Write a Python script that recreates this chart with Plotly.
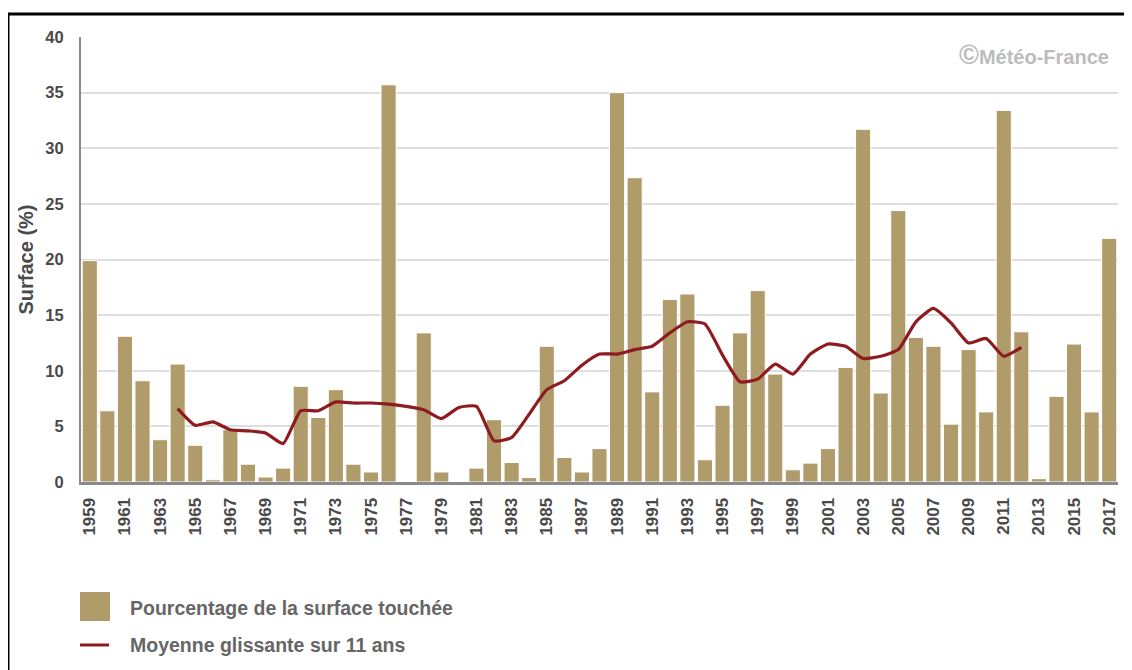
import plotly.graph_objects as go

years = list(range(1959, 2018))
surface = [19.9, 6.4, 13.1, 9.1, 3.8, 10.6, 3.3, 0.2, 4.7, 1.6,
           0.45, 1.25, 8.6, 5.8, 8.3, 1.6, 0.9, 35.7, 0.0, 13.4,
           0.9, 0.0, 1.25, 5.6, 1.75, 0.4, 12.2, 2.2, 0.9, 3.0,
           35.0, 27.35, 8.1, 16.4, 16.9, 2.0, 6.9, 13.4, 17.2, 9.7,
           1.1, 1.7, 3.0, 10.3, 31.7, 8.0, 24.4, 13.0, 12.2, 5.2,
           11.9, 6.3, 33.4, 13.5, 0.3, 7.7, 12.4, 6.3, 21.9]

ma_years = list(range(1964, 2013))
moving_avg = [6.6, 5.1, 5.4, 4.7, 4.6, 4.4, 3.45, 6.4, 6.4, 7.2,
              7.1, 7.1, 7.0, 6.8, 6.5, 5.7, 6.7, 6.8, 3.7, 4.0,
              6.1, 8.3, 9.1, 10.5, 11.5, 11.5, 11.9, 12.2, 13.4, 14.4,
              14.2, 11.4, 9.0, 9.25, 10.6, 9.7, 11.5, 12.4, 12.2, 11.1,
              11.3, 11.9, 14.4, 15.6, 14.3, 12.5, 12.9, 11.3, 12.1]

bar_label = "Pourcentage de la surface touchée"
line_label = "Moyenne glissante sur 11 ans"
y_title = "Surface (%)"
credit_symbol = "©"
credit_text = "Météo-France"

BAR_COLOR = "#B09B6B"
LINE_COLOR = "#8E1B1F"
FONT = "Liberation Sans, Arial, sans-serif"
TXT = "#4a4a4a"

# the page body adds an 8px offset; the figure is laid out in figure pixels
OFF = 8
PL, PR, PT, PB = 81 - OFF, 1118 - OFF, 37 - OFF, 482 - OFF   # plot area (figure px)
W, H = 1132, 670

fig = go.Figure()
fig.add_trace(go.Bar(
    x=years, y=surface, name=bar_label,
    marker=dict(color=BAR_COLOR, line=dict(color="white", width=1)),
    width=0.86,
))
fig.add_trace(go.Scatter(
    x=ma_years, y=moving_avg, name=line_label, mode="lines",
    line=dict(color=LINE_COLOR, width=3.2, shape="spline", smoothing=0.5),
))

fig.update_layout(
    width=W, height=H,
    margin=dict(l=PL, r=W - PR, t=PT, b=H - PB),
    paper_bgcolor="white", plot_bgcolor="white",
    showlegend=False,
    font=dict(family=FONT, color=TXT),
)
fig.update_xaxes(
    range=[1958.5, 2017.5], tick0=1959, dtick=2, tickmode="linear",
    tickangle=-90, tickfont=dict(size=17, weight="bold", color=TXT),
    showgrid=False, showline=True, linecolor="#8a8a8a", linewidth=3,
    ticks="outside", ticklen=6, tickcolor="white", zeroline=False,
)
fig.update_yaxes(
    range=[0, 40], tick0=0, dtick=5,
    tickfont=dict(size=16.5, weight="bold", color=TXT),
    showgrid=True, gridcolor="#dedede", gridwidth=2,
    showline=True, linecolor="#8a8a8a", linewidth=2,
    ticks="outside", ticklen=12, tickcolor="white", zeroline=False,
    title=dict(text=y_title, font=dict(size=20, weight="bold", color=TXT), standoff=6),
)

pw, ph = float(PR - PL), float(PB - PT)
def px_x(v):
    return (v - OFF - PL) / pw
def px_y(v):
    return (PB - (v - OFF)) / ph

# credit watermark
fig.add_annotation(
    text=f"<span style='font-size:27px'>{credit_symbol}</span>{credit_text}",
    xref="paper", yref="paper", x=px_x(1111), y=px_y(55),
    xanchor="right", yanchor="middle", showarrow=False,
    font=dict(size=20, color="#bcbcbc", family=FONT, weight="bold"),
)

# manual legend
fig.add_shape(type="rect", xref="paper", yref="paper",
              x0=px_x(80), x1=px_x(110), y0=px_y(592), y1=px_y(621),
              fillcolor=BAR_COLOR, line=dict(width=0))
fig.add_shape(type="line", xref="paper", yref="paper",
              x0=px_x(80), x1=px_x(109), y0=px_y(645), y1=px_y(645),
              line=dict(color=LINE_COLOR, width=3))
fig.add_annotation(text=bar_label, xref="paper", yref="paper",
                   x=px_x(128), y=px_y(608), xanchor="left", yanchor="middle",
                   showarrow=False, font=dict(size=19.5, color="#666666", family=FONT, weight="bold"))
fig.add_annotation(text=line_label, xref="paper", yref="paper",
                   x=px_x(128), y=px_y(645), xanchor="left", yanchor="middle",
                   showarrow=False, font=dict(size=19.5, color="#666666", family=FONT, weight="bold"))

# outer black frame (top and left edges visible)
fig.add_shape(type="line", xref="paper", yref="paper",
              x0=px_x(8), x1=px_x(1140), y0=px_y(14), y1=px_y(14),
              line=dict(color="black", width=3))
fig.add_shape(type="line", xref="paper", yref="paper",
              x0=px_x(8), x1=px_x(8), y0=px_y(14), y1=px_y(680),
              line=dict(color="black", width=3))

fig.write_html("out.html")
